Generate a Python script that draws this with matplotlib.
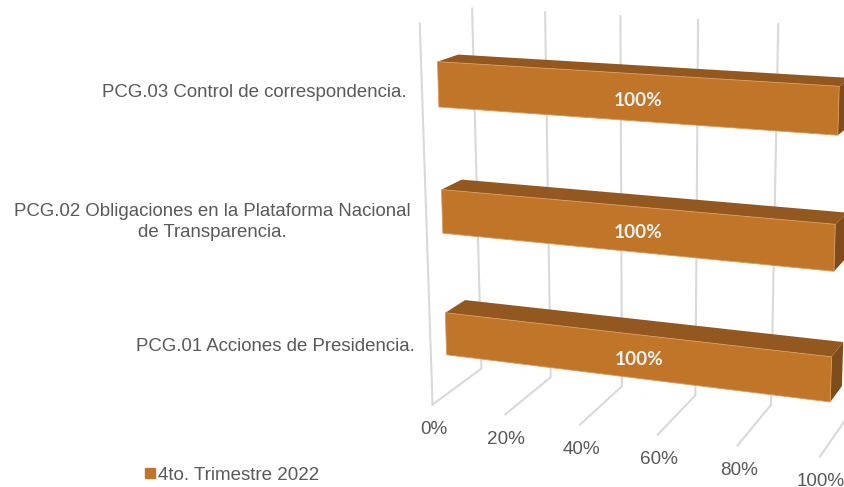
#!/usr/bin/env python3
"""Horizontal 3D bar chart, drawn through a fitted perspective camera."""
import matplotlib
matplotlib.use("Agg")
import matplotlib.pyplot as plt
import numpy as np
from matplotlib.patches import Patch

plt.rcParams["font.family"] = ["Liberation Sans", "DejaVu Sans"]

categories = [
    "PCG.01 Acciones de Presidencia.",
    "PCG.02 Obligaciones en la Plataforma Nacional\nde Transparencia.",
    "PCG.03 Control de correspondencia.",
]
values = [100, 100, 100]
value_ticks = [0, 20, 40, 60, 80, 100]
series_name = "4to. Trimestre 2022"

# maps (value / 100, depth, height, 1) to picture pixels
CAMERA = np.array([
    [325.40761413, 77.84854433, -36.22725649, 432.55611697],
    [17.30431375, -13.77494004, -382.16083028, 404.58922742],
    [-0.0757344, 0.06023211, -0.05583265, 1.0],
])
BAR_DEPTH = (0.3, 0.7)
SLOT_FILL = 0.35
GRID = "#D9D9D9"
TEXT = "#595959"
FRONT = "#C07529"
TOP = "#92581F"
SIDE = "#7E4B1A"


def project(value, depth, height):
    p = CAMERA @ np.array([value / 100, depth, height, 1.0])
    return p[0] / p[2], p[1] / p[2]


def draw_grid(ax):
    for tick in value_ticks:
        xs, ys = zip(project(tick, 0, 0), project(tick, 1, 0), project(tick, 1, 1))
        ax.plot(xs, ys, color=GRID, lw=1.5, solid_joinstyle="miter", zorder=1)
        x, y = project(tick, 0, 0)
        ax.text(x + 1, y + 25, f"{tick}%", color=TEXT, fontsize=13.6, ha="center", va="center")
    xs, ys = zip(project(0, 0, 0), project(0, 0, 1))
    ax.plot(xs, ys, color=GRID, lw=1.5, zorder=1)


def draw_bars(ax):
    d0, d1 = BAR_DEPTH
    n = len(categories)
    for i, (name, value) in enumerate(zip(categories, values)):
        lo = (i + 0.5 - SLOT_FILL / 2) / n
        hi = (i + 0.5 + SLOT_FILL / 2) / n
        front = [project(0, d0, lo), project(value, d0, lo), project(value, d0, hi), project(0, d0, hi)]
        top = [project(0, d0, hi), project(value, d0, hi), project(value, d1, hi), project(0, d1, hi)]
        side = [project(value, d0, lo), project(value, d1, lo), project(value, d1, hi), project(value, d0, hi)]
        ax.fill(*zip(*side), color=SIDE, lw=0, zorder=2)
        ax.fill(*zip(*top), color=TOP, lw=0, zorder=2)
        ax.fill(*zip(*front), fc=FRONT, ec="#D9995C", lw=0.6, zorder=3)

        x, y = project(value / 2, d0, (lo + hi) / 2)
        ax.text(x + 8, y + 3.5, f"{value}%", color="#F2F2F2", fontsize=13.7, fontweight="bold",
                family=["Lato", "DejaVu Sans"], ha="center", va="center", zorder=4)
        x, y = project(0, 0, (i + 0.5) / n)
        ax.text(x - 16, y + 2, name, color=TEXT, fontsize=13.42, ha="right", va="center",
                multialignment="center", linespacing=1.3)


def main():
    fig = plt.figure(figsize=(8.45, 4.87), dpi=100)
    ax = fig.add_axes([0, 0, 1, 1])
    ax.set_xlim(0, 845)
    ax.set_ylim(487, 0)
    ax.axis("off")

    draw_grid(ax)
    draw_bars(ax)

    ax.legend(handles=[Patch(color=FRONT, label=series_name)], loc="center left",
              bbox_to_anchor=(145, 475), bbox_transform=ax.transData, frameon=False,
              fontsize=13.5, labelcolor=TEXT, handlelength=0.54, handleheight=0.5,
              handletextpad=0.16, borderpad=0, borderaxespad=0)

    fig.savefig("out.png", dpi=100)


if __name__ == "__main__":
    main()
